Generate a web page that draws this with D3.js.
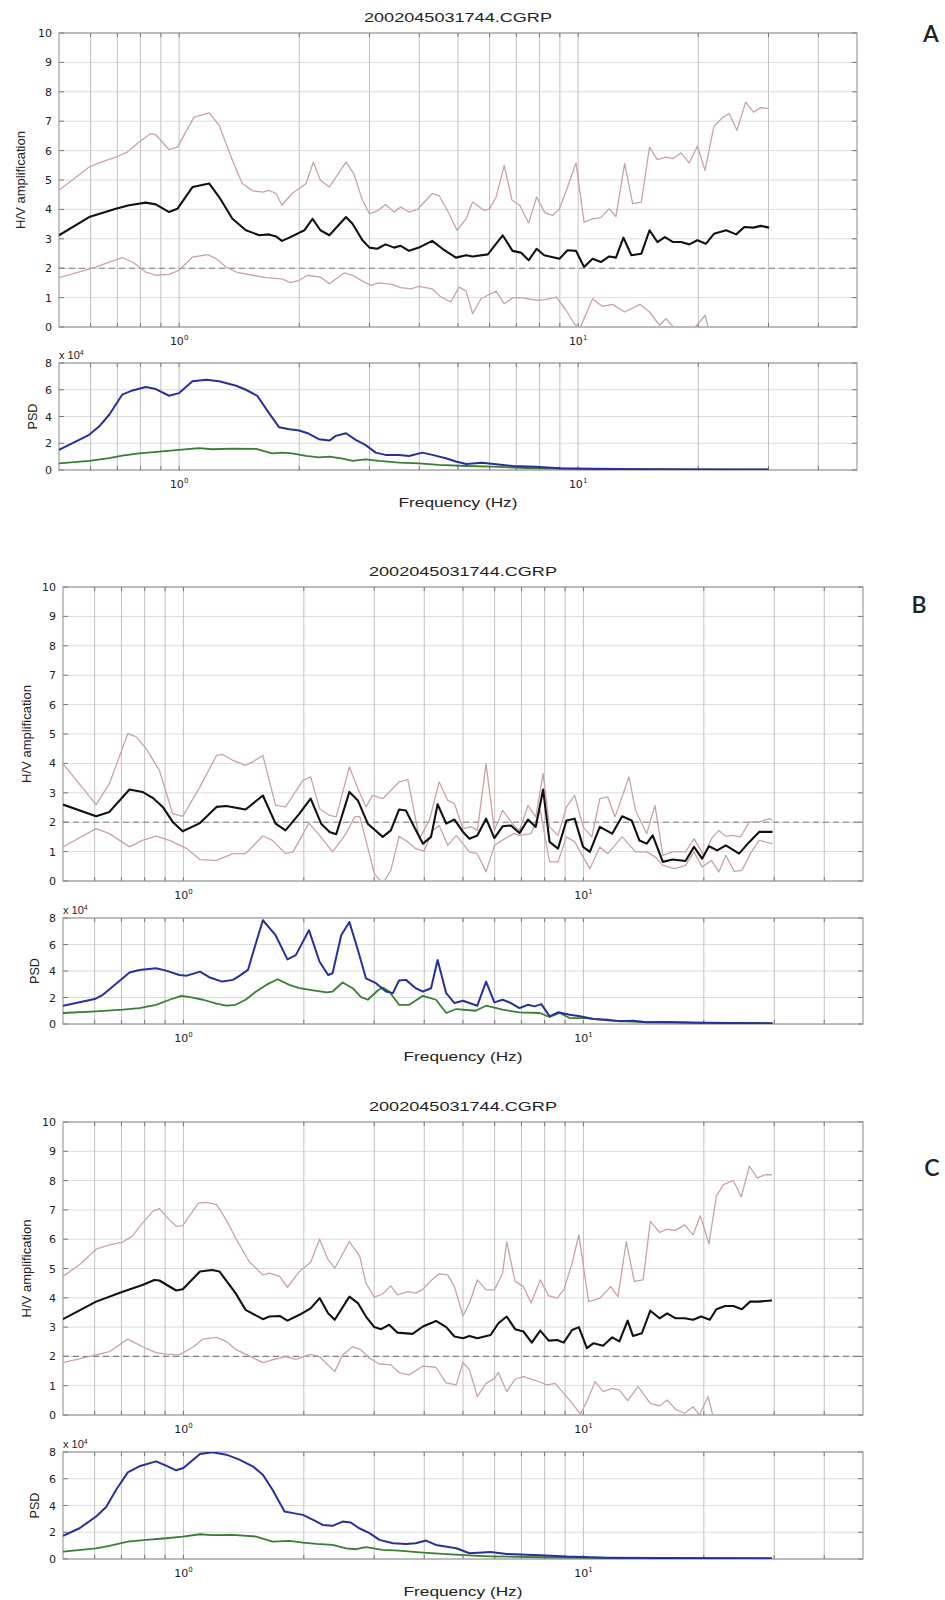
<!DOCTYPE html>
<html>
<head>
<meta charset="utf-8">
<script src="https://cdn.jsdelivr.net/npm/d3@7/dist/d3.min.js"></script>
<style>
  body { margin: 0; background: #fff; }
  svg text { font-family: "Liberation Sans", Arial, "DejaVu Sans", sans-serif; fill: #222; }
</style>
</head>
<body>
<svg id="chart" width="945" height="1600"></svg>
<script>
// ---- data: [frequency Hz, value] ----
const titleText = "2002045031744.CGRP";
const hvTicks = [0, 1, 2, 3, 4, 5, 6, 7, 8, 9, 10];
const psdTicks = [0, 2, 4, 6, 8];
const gridFreqs = [0.6, 0.7, 0.8, 0.9, 1, 2, 3, 4, 5, 6, 7, 8, 9, 10, 20, 30, 40];
const decadeLabels = [{ f: 1, exp: "0" }, { f: 10, exp: "1" }];
const refLevel = 2;

const hvMeanA = [[0.5,3.12],[0.595,3.74],[0.694,4.02],[0.749,4.14],[0.825,4.23],[0.874,4.17],[0.944,3.91],[0.99,4.02],[1.08,4.76],[1.19,4.88],[1.26,4.42],[1.36,3.68],[1.47,3.29],[1.59,3.12],[1.68,3.15],[1.75,3.08],[1.81,2.93],[1.89,3.04],[2.06,3.29],[2.16,3.68],[2.26,3.29],[2.38,3.12],[2.62,3.74],[2.72,3.51],[2.88,2.95],[3.0,2.70],[3.14,2.66],[3.29,2.81],[3.46,2.70],[3.59,2.76],[3.77,2.59],[3.99,2.70],[4.31,2.93],[4.57,2.66],[4.94,2.36],[5.24,2.44],[5.44,2.40],[5.94,2.47],[6.47,3.12],[6.85,2.59],[7.19,2.53],[7.52,2.27],[7.87,2.66],[8.22,2.44],[8.98,2.32],[9.41,2.61],[9.88,2.59],[10.35,2.04],[10.87,2.32],[11.4,2.21],[11.97,2.40],[12.44,2.36],[12.99,3.04],[13.6,2.44],[14.4,2.49],[15.1,3.29],[15.8,2.89],[16.5,3.06],[17.3,2.89],[18.1,2.89],[19.0,2.81],[19.9,2.95],[20.9,2.83],[21.9,3.17],[23.5,3.29],[24.9,3.15],[26.1,3.40],[27.5,3.38],[28.7,3.44],[30.1,3.38]];
const hvUpperA = [[0.5,4.65],[0.595,5.44],[0.63,5.58],[0.694,5.78],[0.742,5.95],[0.794,6.29],[0.849,6.58],[0.874,6.54],[0.944,6.03],[0.99,6.12],[1.09,7.14],[1.19,7.28],[1.26,6.86],[1.36,5.67],[1.44,4.88],[1.53,4.63],[1.62,4.59],[1.68,4.65],[1.75,4.54],[1.81,4.14],[1.92,4.54],[2.08,4.88],[2.17,5.61],[2.26,4.99],[2.38,4.76],[2.62,5.61],[2.74,5.22],[2.88,4.31],[3.0,3.85],[3.14,3.95],[3.29,4.17],[3.46,3.91],[3.59,4.08],[3.77,3.91],[3.95,3.99],[4.31,4.54],[4.48,4.48],[4.75,3.85],[4.97,3.29],[5.24,3.68],[5.44,4.25],[5.81,3.97],[6.0,4.02],[6.23,4.42],[6.53,5.50],[6.83,4.31],[7.14,4.14],[7.52,3.54],[7.87,4.42],[8.26,3.88],[8.64,3.80],[8.98,4.02],[9.41,4.76],[9.88,5.58],[10.35,3.57],[10.87,3.68],[11.4,3.72],[11.97,4.02],[12.44,3.76],[13.08,5.56],[13.7,4.20],[14.4,4.25],[15.1,6.12],[15.8,5.69],[16.6,5.78],[17.3,5.73],[18.1,5.92],[19.0,5.58],[19.9,6.15],[20.8,5.33],[21.9,6.83],[23.1,7.14],[23.9,7.26],[25.0,6.69],[26.3,7.65],[27.5,7.31],[28.7,7.46],[30.1,7.43]];
const hvLowerA = [[0.5,1.68],[0.56,1.87],[0.618,2.04],[0.668,2.21],[0.72,2.36],[0.764,2.21],[0.825,1.87],[0.874,1.76],[0.944,1.79],[1.0,1.93],[1.08,2.38],[1.18,2.46],[1.24,2.32],[1.31,2.04],[1.39,1.87],[1.53,1.76],[1.65,1.68],[1.81,1.64],[1.90,1.51],[2.0,1.59],[2.10,1.76],[2.26,1.70],[2.38,1.47],[2.59,1.84],[2.72,1.76],[2.88,1.56],[3.02,1.42],[3.17,1.50],[3.42,1.45],[3.59,1.34],[3.81,1.30],[3.99,1.38],[4.31,1.30],[4.53,1.02],[4.80,0.85],[5.03,1.36],[5.24,1.22],[5.44,0.45],[5.71,0.96],[5.94,1.08],[6.23,1.22],[6.53,0.79],[6.85,0.99],[7.19,1.0],[7.87,0.91],[8.26,0.93],[8.82,1.02],[9.33,0.57],[9.78,0.11],[10.1,-0.05],[10.87,0.96],[11.5,0.70],[12.2,0.77],[13.08,0.51],[14.3,0.77],[15.1,0.51],[16.0,0.06],[16.6,0.28],[17.5,-0.06],[19.3,-0.1],[20.0,0.11],[20.8,0.40],[21.3,-0.1],[24.0,-0.4],[30.1,-0.5]];
const psdHA = [[0.5,1.5],[0.595,2.63],[0.63,3.25],[0.668,4.13],[0.72,5.63],[0.764,5.95],[0.825,6.2],[0.874,6.05],[0.944,5.55],[1.0,5.75],[1.08,6.63],[1.17,6.75],[1.26,6.63],[1.39,6.3],[1.47,6.0],[1.57,5.55],[1.68,4.25],[1.78,3.2],[1.89,3.05],[2.0,2.95],[2.10,2.75],[2.24,2.3],[2.38,2.2],[2.47,2.55],[2.62,2.75],[2.77,2.25],[2.93,1.88],[3.11,1.3],[3.29,1.13],[3.56,1.13],[3.77,1.05],[4.07,1.3],[4.31,1.13],[4.66,0.88],[4.94,0.63],[5.24,0.45],[5.74,0.55],[6.23,0.43],[6.85,0.3],[7.8,0.25],[8.98,0.13],[10.87,0.1],[14.5,0.05],[23.4,0.03],[30,0.03]];
const psdVA = [[0.5,0.5],[0.595,0.68],[0.668,0.88],[0.72,1.08],[0.794,1.25],[0.891,1.38],[1.0,1.5],[1.12,1.63],[1.21,1.55],[1.36,1.6],[1.56,1.58],[1.71,1.25],[1.81,1.3],[1.92,1.25],[2.08,1.05],[2.24,0.95],[2.38,1.0],[2.57,0.85],[2.72,0.68],[2.93,0.8],[3.17,0.68],[3.56,0.55],[3.99,0.5],[4.48,0.38],[5.24,0.3],[6.1,0.25],[7.4,0.15],[9.88,0.08],[16,0.04],[30,0.02]];

const hvMeanB = [[0.5,2.60],[0.605,2.20],[0.653,2.35],[0.733,3.11],[0.79,3.03],[0.838,2.83],[0.888,2.52],[0.94,2.01],[0.996,1.69],[1.10,1.97],[1.21,2.52],[1.28,2.55],[1.43,2.43],[1.58,2.91],[1.70,1.95],[1.80,1.72],[1.95,2.29],[2.08,2.80],[2.21,1.95],[2.32,1.67],[2.41,1.59],[2.60,3.03],[2.73,2.74],[2.89,1.95],[3.15,1.50],[3.30,1.72],[3.46,2.43],[3.60,2.40],[3.74,1.95],[3.97,1.27],[4.16,1.50],[4.32,2.61],[4.54,1.95],[4.76,2.09],[5.0,1.67],[5.19,1.44],[5.43,1.55],[5.71,2.12],[5.99,1.46],[6.28,1.86],[6.59,1.89],[6.92,1.63],[7.27,2.09],[7.6,1.84],[7.93,3.11],[8.23,1.33],[8.64,1.10],[9.07,2.06],[9.51,2.12],[9.98,1.16],[10.38,0.99],[10.99,1.84],[11.8,1.61],[12.5,2.20],[13.2,2.06],[13.8,1.38],[14.4,1.27],[14.9,1.55],[15.8,0.65],[16.7,0.73],[18.0,0.68],[18.9,1.16],[19.8,0.76],[20.6,1.18],[21.6,1.04],[22.7,1.21],[24.5,0.93],[26.0,1.33],[27.5,1.67],[29.7,1.67]];
const hvUpperB = [[0.5,3.99],[0.605,2.60],[0.653,3.31],[0.726,5.01],[0.762,4.90],[0.807,4.50],[0.871,3.76],[0.94,2.29],[0.996,2.20],[1.10,3.20],[1.21,4.27],[1.25,4.31],[1.33,4.10],[1.43,3.93],[1.49,4.05],[1.58,4.27],[1.70,2.57],[1.80,2.52],[1.99,3.42],[2.08,3.54],[2.19,2.46],[2.32,2.23],[2.41,2.18],[2.60,3.88],[2.73,3.14],[2.86,2.52],[2.97,2.91],[3.15,2.80],[3.46,3.37],[3.64,3.45],[3.89,1.44],[4.12,2.06],[4.36,3.37],[4.58,2.74],[4.76,2.63],[5.0,1.78],[5.24,1.84],[5.43,1.72],[5.71,3.99],[5.99,1.72],[6.28,2.40],[6.7,1.89],[6.92,1.72],[7.27,2.57],[7.6,2.18],[7.93,3.65],[8.23,1.84],[8.64,1.55],[9.07,2.52],[9.51,2.91],[9.98,1.84],[10.5,1.50],[10.99,2.80],[11.5,2.86],[12.0,2.18],[13.0,3.54],[13.5,2.40],[14.4,1.61],[15.1,2.57],[15.8,0.87],[16.7,0.99],[18.0,0.99],[18.9,1.44],[20.0,0.87],[20.9,1.44],[21.8,1.72],[22.7,1.52],[23.5,1.55],[24.7,1.50],[26.0,2.01],[27.5,2.01],[29.2,2.12],[29.7,2.06]];
const hvLowerB = [[0.5,1.16],[0.605,1.78],[0.653,1.61],[0.733,1.16],[0.79,1.38],[0.854,1.53],[0.923,1.38],[1.02,1.10],[1.10,0.73],[1.21,0.70],[1.33,0.93],[1.43,0.93],[1.58,1.53],[1.67,1.38],[1.80,0.93],[1.88,0.99],[2.06,1.97],[2.19,1.55],[2.36,0.99],[2.55,1.61],[2.68,2.18],[2.76,2.20],[2.86,1.38],[3.0,0.25],[3.15,-0.09],[3.30,0.36],[3.46,1.52],[3.64,1.33],[3.81,1.10],[4.0,1.02],[4.20,1.72],[4.36,1.89],[4.58,1.21],[4.81,1.55],[5.19,0.99],[5.43,0.93],[5.71,0.31],[5.99,1.21],[6.36,1.44],[6.7,1.61],[6.92,1.55],[7.4,1.61],[7.8,2.40],[8.23,0.65],[8.64,0.65],[9.07,1.50],[9.51,1.33],[9.98,0.82],[10.38,0.42],[10.99,1.16],[11.5,0.93],[12.5,1.50],[13.5,0.99],[14.4,0.99],[15.1,0.82],[15.8,0.53],[16.9,0.42],[18.0,0.53],[18.9,0.99],[19.8,0.48],[20.9,0.70],[21.8,0.31],[22.7,0.87],[23.8,0.33],[24.9,0.36],[26.3,0.99],[27.5,1.38],[29.7,1.27]];
const psdHB = [[0.5,1.38],[0.6,1.88],[0.629,2.2],[0.666,2.83],[0.733,3.88],[0.776,4.08],[0.854,4.2],[0.905,4.03],[0.977,3.7],[1.02,3.65],[1.10,3.95],[1.16,3.53],[1.25,3.2],[1.33,3.33],[1.38,3.63],[1.45,4.08],[1.50,5.58],[1.58,7.83],[1.70,6.7],[1.82,4.88],[1.91,5.2],[2.06,7.08],[2.19,4.7],[2.30,3.7],[2.36,3.83],[2.48,6.7],[2.60,7.7],[2.73,5.58],[2.86,3.45],[3.03,3.08],[3.21,2.45],[3.34,2.33],[3.46,3.28],[3.60,3.33],[3.81,2.7],[3.97,2.45],[4.16,2.7],[4.32,4.83],[4.54,2.33],[4.76,1.58],[5.0,1.75],[5.19,1.58],[5.43,1.38],[5.71,3.2],[5.99,1.63],[6.28,1.83],[6.59,1.58],[6.92,1.2],[7.27,1.45],[7.55,1.33],[7.85,1.5],[8.23,0.58],[8.64,0.88],[9.24,0.7],[9.80,0.58],[10.6,0.38],[11.5,0.33],[12.3,0.2],[13.3,0.25],[14.4,0.13],[16.2,0.15],[19.0,0.1],[22.7,0.08],[29.7,0.05]];
const psdVB = [[0.5,0.83],[0.605,0.95],[0.705,1.08],[0.776,1.2],[0.854,1.45],[0.923,1.83],[0.987,2.13],[1.04,2.03],[1.12,1.83],[1.21,1.53],[1.28,1.38],[1.35,1.45],[1.43,1.83],[1.52,2.45],[1.61,2.95],[1.72,3.38],[1.84,2.95],[1.95,2.7],[2.11,2.53],[2.28,2.38],[2.36,2.45],[2.50,3.13],[2.65,2.7],[2.78,2.03],[2.89,1.83],[3.06,2.53],[3.15,2.75],[3.27,2.45],[3.46,1.45],[3.67,1.45],[3.97,2.13],[4.28,1.83],[4.54,0.83],[4.81,1.13],[5.38,1.0],[5.71,1.38],[6.28,1.08],[6.92,0.88],[7.78,0.83],[8.23,0.53],[8.73,0.83],[9.24,0.45],[10.2,0.45],[11.6,0.25],[14.1,0.15],[19.0,0.1],[29.7,0.05]];

const hvMeanC = [[0.5,3.27],[0.605,3.87],[0.705,4.21],[0.79,4.44],[0.846,4.61],[0.871,4.59],[0.959,4.25],[0.996,4.29],[1.10,4.90],[1.18,4.95],[1.23,4.90],[1.35,4.16],[1.43,3.59],[1.58,3.27],[1.64,3.36],[1.74,3.38],[1.82,3.22],[1.95,3.42],[2.08,3.64],[2.19,3.99],[2.30,3.47],[2.39,3.25],[2.60,4.04],[2.73,3.82],[2.86,3.36],[3.0,3.0],[3.12,2.93],[3.27,3.08],[3.43,2.81],[3.74,2.77],[3.97,3.02],[4.28,3.21],[4.54,3.0],[4.76,2.68],[5.0,2.62],[5.19,2.70],[5.43,2.62],[5.86,2.73],[6.13,3.13],[6.43,3.36],[6.75,2.93],[7.08,2.85],[7.43,2.47],[7.8,2.88],[8.19,2.54],[8.6,2.56],[8.93,2.47],[9.37,2.90],[9.74,3.0],[10.2,2.28],[10.6,2.45],[11.2,2.36],[11.8,2.65],[12.3,2.51],[12.9,3.22],[13.3,2.70],[14.0,2.79],[14.7,3.56],[15.5,3.30],[16.2,3.47],[17.0,3.30],[17.9,3.30],[18.8,3.25],[19.7,3.36],[20.7,3.25],[21.5,3.61],[22.6,3.72],[23.7,3.72],[24.9,3.61],[26.1,3.87],[27.4,3.87],[29.6,3.91]];
const hvUpperC = [[0.5,4.73],[0.55,5.13],[0.605,5.66],[0.653,5.81],[0.705,5.90],[0.747,6.12],[0.79,6.55],[0.838,6.95],[0.871,7.04],[0.914,6.72],[0.959,6.44],[0.996,6.46],[1.09,7.23],[1.14,7.26],[1.21,7.18],[1.28,6.66],[1.35,6.04],[1.46,5.24],[1.58,4.78],[1.64,4.84],[1.74,4.73],[1.82,4.36],[1.95,4.90],[2.08,5.21],[2.19,6.0],[2.30,5.30],[2.39,5.01],[2.60,5.92],[2.76,5.41],[2.86,4.50],[3.0,4.02],[3.15,4.13],[3.30,4.41],[3.43,4.10],[3.64,4.21],[3.81,4.16],[3.97,4.29],[4.16,4.59],[4.36,4.82],[4.58,4.78],[4.76,4.38],[5.0,3.38],[5.19,3.82],[5.43,4.61],[5.71,4.27],[5.99,4.27],[6.28,4.84],[6.43,5.92],[6.75,4.56],[7.08,4.38],[7.4,3.82],[7.8,4.61],[8.19,4.07],[8.6,3.99],[8.93,4.27],[9.37,5.18],[9.74,6.15],[10.3,3.87],[11.0,3.99],[11.7,4.38],[12.2,4.04],[12.8,5.92],[13.4,4.56],[14.1,4.61],[14.7,6.61],[15.5,6.23],[16.2,6.34],[17.0,6.30],[17.9,6.49],[18.8,6.15],[19.6,6.80],[20.6,5.84],[21.5,7.48],[22.4,7.86],[23.7,8.01],[24.8,7.44],[26.0,8.49],[27.2,8.09],[28.5,8.20],[29.6,8.20]];
const hvLowerC = [[0.5,1.79],[0.605,2.05],[0.653,2.16],[0.726,2.59],[0.79,2.33],[0.854,2.13],[0.905,2.08],[0.977,2.05],[1.06,2.33],[1.12,2.59],[1.21,2.65],[1.28,2.51],[1.35,2.24],[1.46,2.02],[1.58,1.79],[1.67,1.88],[1.80,1.99],[1.91,1.90],[2.08,2.07],[2.19,1.99],[2.39,1.48],[2.50,2.05],[2.65,2.33],[2.78,2.22],[2.92,1.94],[3.09,1.74],[3.30,1.71],[3.46,1.45],[3.67,1.37],[3.97,1.67],[4.28,1.63],[4.54,1.10],[4.81,1.03],[5.0,1.79],[5.19,1.54],[5.43,0.63],[5.71,1.08],[5.99,1.25],[6.13,1.45],[6.43,0.80],[6.75,1.22],[7.08,1.31],[7.67,1.16],[8.1,1.03],[8.5,1.08],[8.93,0.74],[9.37,0.40],[9.83,0.03],[10.2,0.46],[10.7,1.14],[11.2,0.80],[11.8,0.91],[12.3,0.85],[12.9,0.49],[13.7,0.97],[14.7,0.40],[15.5,0.31],[16.2,0.51],[17.0,0.19],[17.9,0.06],[18.8,0.28],[19.5,0.0],[20.5,0.63],[21.1,-0.05],[23.0,-0.3],[29.6,-0.4]];
const psdHC = [[0.5,1.73],[0.55,2.3],[0.605,3.18],[0.641,3.88],[0.679,5.18],[0.726,6.48],[0.776,6.93],[0.854,7.3],[0.905,6.98],[0.959,6.63],[1.0,6.8],[1.10,7.85],[1.18,7.98],[1.28,7.8],[1.38,7.43],[1.49,6.93],[1.58,6.3],[1.67,5.18],[1.79,3.55],[1.88,3.43],[1.99,3.3],[2.11,2.93],[2.23,2.55],[2.36,2.48],[2.50,2.8],[2.62,2.73],[2.75,2.3],[2.92,1.93],[3.09,1.43],[3.34,1.18],[3.60,1.13],[3.81,1.18],[4.04,1.38],[4.28,1.05],[4.81,0.8],[5.19,0.43],[5.86,0.53],[6.43,0.38],[7.8,0.28],[9.07,0.18],[11.5,0.1],[15.3,0.08],[29.6,0.05]];
const psdVC = [[0.5,0.55],[0.605,0.8],[0.653,0.98],[0.726,1.3],[0.807,1.43],[0.905,1.55],[0.996,1.68],[1.10,1.85],[1.18,1.78],[1.33,1.8],[1.52,1.68],[1.67,1.3],[1.84,1.35],[1.99,1.23],[2.15,1.13],[2.36,1.05],[2.55,0.8],[2.70,0.73],[2.86,0.88],[3.15,0.68],[3.46,0.63],[3.97,0.48],[4.45,0.38],[5.29,0.25],[5.86,0.2],[7.8,0.13],[10.5,0.08],[15.3,0.05],[29.6,0.03]];

// ---- layout of the three stacked figures ----
const panels = [
  { key: "A", hvMean: hvMeanA, hvUpper: hvUpperA, hvLower: hvLowerA, psdH: psdHA, psdV: psdVA,
    left: 59, right: 857, hvTop: 33, hvBot: 327, psdTop: 363, psdBot: 470,
    titleY: 22, letterX: 931, letterY: 42, hvLabelX: 21, psdLabelX: 33 },
  { key: "B", hvMean: hvMeanB, hvUpper: hvUpperB, hvLower: hvLowerB, psdH: psdHB, psdV: psdVB,
    left: 63, right: 863, hvTop: 587, hvBot: 881, psdTop: 918, psdBot: 1024,
    titleY: 576, letterX: 919, letterY: 613, hvLabelX: 27, psdLabelX: 35 },
  { key: "C", hvMean: hvMeanC, hvUpper: hvUpperC, hvLower: hvLowerC, psdH: psdHC, psdV: psdVC,
    left: 63, right: 863, hvTop: 1122, hvBot: 1415, psdTop: 1452, psdBot: 1559,
    titleY: 1111, letterX: 932, letterY: 1176, hvLabelX: 27, psdLabelX: 35 }
];

const colors = {
  mean: "#111", band: "#c9a3a3", ref: "#808080",
  psdH: "#27309a", psdV: "#3b7d34",
  gridV: "#c2c2c2", gridH: "#dcdcdc", frame: "#8a8a8a", tick: "#777"
};

const svg = d3.select("#chart");
const defs = svg.append("defs");

// one log-x / linear-y box with grid, frame, ticks and labels
function drawBox(g, x, y, yTicks, id) {
  const [x0, x1] = x.range();
  const [y0, y1] = y.range(); // y0 = bottom

  defs.append("clipPath").attr("id", id)
    .append("rect").attr("x", x0).attr("y", y1)
    .attr("width", x1 - x0).attr("height", y0 - y1);

  g.append("g").selectAll("line").data(yTicks).join("line")
    .attr("x1", x0).attr("x2", x1)
    .attr("y1", d => y(d)).attr("y2", d => y(d))
    .attr("stroke", colors.gridH).attr("stroke-width", 1);

  g.append("g").selectAll("line").data(gridFreqs).join("line")
    .attr("x1", d => x(d)).attr("x2", d => x(d))
    .attr("y1", y1).attr("y2", y0)
    .attr("stroke", colors.gridV).attr("stroke-width", 1);

  // inside tick marks, MATLAB style
  const ticks = g.append("g").attr("stroke", colors.tick).attr("stroke-width", 1);
  gridFreqs.forEach(f => {
    ticks.append("line").attr("x1", x(f)).attr("x2", x(f)).attr("y1", y0).attr("y2", y0 - 4);
    ticks.append("line").attr("x1", x(f)).attr("x2", x(f)).attr("y1", y1).attr("y2", y1 + 4);
  });
  yTicks.forEach(v => {
    ticks.append("line").attr("x1", x0).attr("x2", x0 + 5).attr("y1", y(v)).attr("y2", y(v));
    ticks.append("line").attr("x1", x1).attr("x2", x1 - 5).attr("y1", y(v)).attr("y2", y(v));
  });

  g.append("rect").attr("x", x0).attr("y", y1)
    .attr("width", x1 - x0).attr("height", y0 - y1)
    .attr("fill", "none").attr("stroke", colors.frame).attr("stroke-width", 1);

  // y tick labels through d3 axis
  const yAxis = g.append("g").attr("transform", `translate(${x0},0)`)
    .call(d3.axisLeft(y).tickValues(yTicks).tickSize(0).tickPadding(7).tickFormat(d3.format("d")));
  yAxis.select(".domain").remove();
  yAxis.selectAll("text")
    .style("font-family", "'DejaVu Sans', sans-serif")
    .style("font-size", "11px").attr("fill", "#333");

  // decade labels 10^0, 10^1
  decadeLabels.forEach(dl => {
    const t = g.append("text").attr("x", x(dl.f)).attr("y", y0 + 18)
      .attr("text-anchor", "middle")
      .style("font-family", "'DejaVu Sans', sans-serif")
      .style("font-size", "11px").attr("fill", "#333");
    t.append("tspan").text("10");
    t.append("tspan").attr("dy", -5).style("font-size", "7px").text(dl.exp);
  });
}

function drawCurve(g, data, x, y, color, width, clipId) {
  const line = d3.line().x(d => x(d[0])).y(d => y(d[1]));
  g.append("path").datum(data)
    .attr("clip-path", `url(#${clipId})`)
    .attr("d", line)
    .attr("fill", "none").attr("stroke", color)
    .attr("stroke-width", width).attr("stroke-linejoin", "round");
}

panels.forEach(p => {
  const g = svg.append("g").attr("class", "panel-" + p.key);
  const x = d3.scaleLog().domain([0.5, 50]).range([p.left, p.right]);
  const yHV = d3.scaleLinear().domain([0, 10]).range([p.hvBot, p.hvTop]);
  const yPSD = d3.scaleLinear().domain([0, 8]).range([p.psdBot, p.psdTop]);
  const cx = (p.left + p.right) / 2;

  // H/V amplification panel
  const gh = g.append("g");
  drawBox(gh, x, yHV, hvTicks, "clip-hv-" + p.key);
  gh.append("line")
    .attr("x1", p.left).attr("x2", p.right)
    .attr("y1", yHV(refLevel)).attr("y2", yHV(refLevel))
    .attr("stroke", colors.ref).attr("stroke-width", 1.1)
    .attr("stroke-dasharray", "6,4");
  drawCurve(gh, p.hvUpper, x, yHV, colors.band, 1.3, "clip-hv-" + p.key);
  drawCurve(gh, p.hvLower, x, yHV, colors.band, 1.3, "clip-hv-" + p.key);
  drawCurve(gh, p.hvMean, x, yHV, colors.mean, 2.1, "clip-hv-" + p.key);

  gh.append("text").attr("x", cx).attr("y", p.titleY)
    .attr("text-anchor", "middle").style("font-size", "13px")
    .attr("textLength", 188).attr("lengthAdjust", "spacingAndGlyphs")
    .text(titleText);

  gh.append("text")
    .attr("transform", `translate(${p.hvLabelX},${(p.hvTop + p.hvBot) / 2}) rotate(-90)`)
    .attr("text-anchor", "middle").attr("dy", "0.35em").style("font-size", "12px")
    .attr("textLength", 98).attr("lengthAdjust", "spacingAndGlyphs")
    .text("H/V amplification");

  // PSD panel
  const gp = g.append("g");
  drawBox(gp, x, yPSD, psdTicks, "clip-psd-" + p.key);
  drawCurve(gp, p.psdV, x, yPSD, colors.psdV, 1.8, "clip-psd-" + p.key);
  drawCurve(gp, p.psdH, x, yPSD, colors.psdH, 2, "clip-psd-" + p.key);

  const sc = gp.append("text").attr("x", p.left).attr("y", p.psdTop - 4)
    .style("font-size", "11px").attr("fill", "#333");
  sc.append("tspan").text("x 10");
  sc.append("tspan").attr("dy", -4).style("font-size", "7px").text("4");

  gp.append("text")
    .attr("transform", `translate(${p.psdLabelX},${(p.psdTop + p.psdBot) / 2}) rotate(-90)`)
    .attr("text-anchor", "middle").attr("dy", "0.35em").style("font-size", "12px")
    .attr("textLength", 26).attr("lengthAdjust", "spacingAndGlyphs")
    .text("PSD");

  gp.append("text").attr("x", cx).attr("y", p.psdBot + 37)
    .attr("text-anchor", "middle").style("font-size", "13px")
    .attr("textLength", 119).attr("lengthAdjust", "spacingAndGlyphs")
    .text("Frequency (Hz)");

  g.append("text").attr("x", p.letterX).attr("y", p.letterY)
    .attr("text-anchor", "middle")
    .style("font-family", "Lato, 'DejaVu Sans', sans-serif")
    .style("font-size", "23px").style("font-weight", "600")
    .attr("fill", "#111")
    .text(p.key);
});
</script>
</body>
</html>
